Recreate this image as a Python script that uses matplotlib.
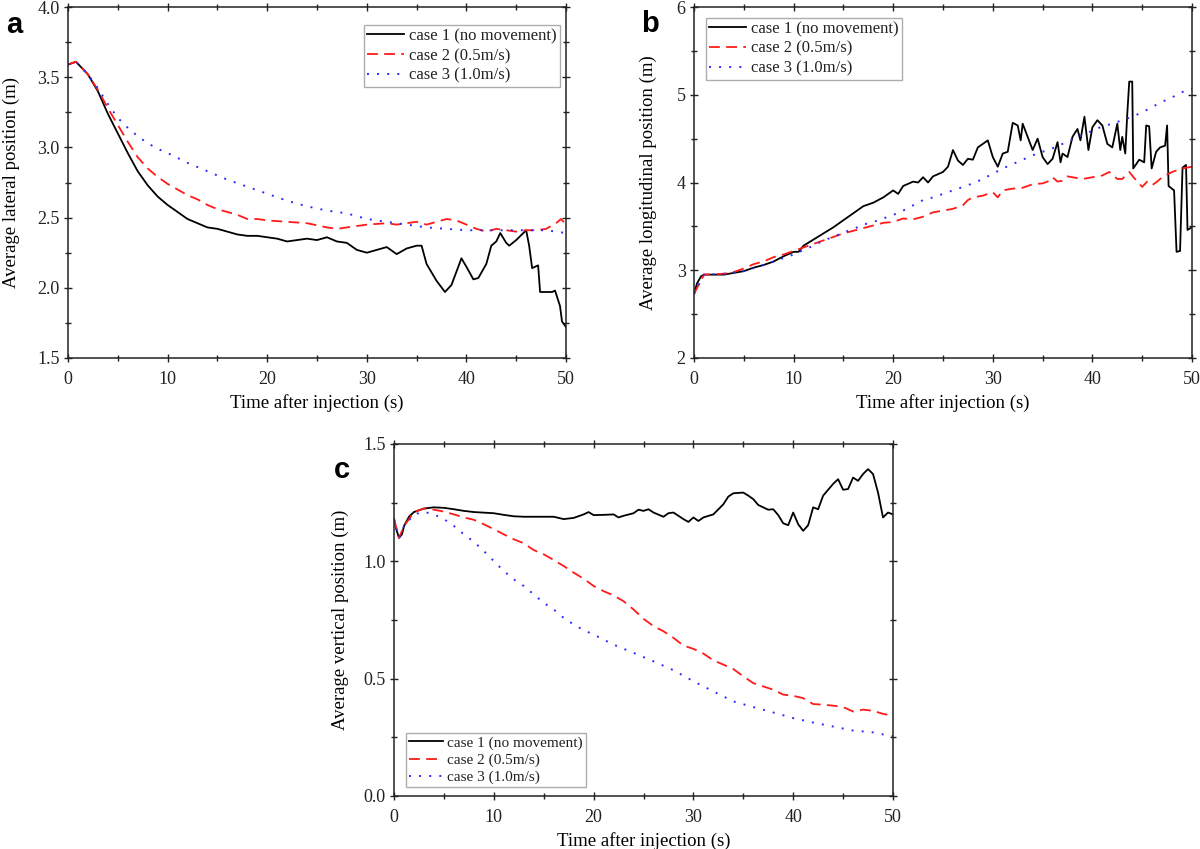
import matplotlib
matplotlib.use("Agg")
import matplotlib.pyplot as plt
from matplotlib.ticker import MultipleLocator

plt.rcParams['font.family'] = ['Liberation Serif', 'DejaVu Serif']
plt.rcParams['mathtext.fontset'] = 'stix'

labels = ["case 1 (no movement)", "case 2 (0.5m/s)", "case 3 (1.0m/s)"]
xlabel = "Time after injection (s)"

# ---------------- Panel a: lateral ----------------
a_t1 = [0, 0.8, 2, 3, 4, 5, 6, 7, 8, 9, 10, 11, 12, 13, 14, 15, 16, 17, 18, 19, 20, 21, 22, 23, 24, 25, 26, 27, 28, 29, 30,
        31, 32, 33, 34, 35, 35.5, 36, 37, 37.85, 38.5, 39.5, 40, 40.7, 41.2, 42, 42.5, 43, 43.4, 44, 44.3, 45, 46, 46.3,
        46.6, 47.2, 47.4, 48.6, 48.9, 49.4, 49.6, 50]
a_y1 = [3.59, 3.61, 3.52, 3.40, 3.24, 3.10, 2.96, 2.83, 2.73, 2.65, 2.59, 2.54, 2.49, 2.46, 2.43, 2.42, 2.40, 2.38, 2.37, 2.37,
        2.36, 2.35, 2.33, 2.34, 2.35, 2.34, 2.36, 2.33, 2.32, 2.27, 2.25, 2.27, 2.29, 2.24, 2.28, 2.30, 2.30, 2.17, 2.05,
        1.97, 2.02, 2.21, 2.15, 2.06, 2.07, 2.17, 2.30, 2.33, 2.39, 2.32, 2.30, 2.34, 2.41, 2.30, 2.14, 2.16, 1.97, 1.97,
        1.98, 1.87, 1.76, 1.72]
a_t2 = [0, 0.8, 2, 3, 4, 5, 6, 7, 8, 9, 10, 11, 12, 13, 14, 15, 16, 17, 18, 19, 20, 22, 24, 26, 27, 28, 30, 32, 33, 34, 35,
        36, 37, 38, 39, 40, 41, 42, 43, 44, 45, 46, 47, 48, 49, 49.5, 50]
a_y2 = [3.59, 3.61, 3.52, 3.41, 3.28, 3.16, 3.04, 2.93, 2.85, 2.79, 2.74, 2.70, 2.66, 2.63, 2.59, 2.56, 2.54, 2.52, 2.49, 2.49,
        2.48, 2.47, 2.46, 2.43, 2.42, 2.43, 2.45, 2.46, 2.45, 2.46, 2.47, 2.45, 2.47, 2.49, 2.48, 2.45, 2.42, 2.40, 2.42,
        2.41, 2.40, 2.41, 2.41, 2.42, 2.46, 2.49, 2.45]
a_t3 = [0, 0.8, 2, 3, 4, 5, 6, 7, 8, 9, 10, 12, 14, 16, 18, 20, 22, 24, 26, 28, 30, 32, 34, 36, 38, 40, 42, 44, 46, 48, 50]
a_y3 = [3.59, 3.61, 3.52, 3.42, 3.31, 3.21, 3.14, 3.08, 3.03, 2.99, 2.96, 2.89, 2.83, 2.77, 2.72, 2.67, 2.62, 2.58, 2.55,
        2.53, 2.49, 2.47, 2.45, 2.43, 2.42, 2.41, 2.41, 2.41, 2.41, 2.41, 2.39]

# ---------------- Panel b: longitudinal ----------------
b_t1 = [0, 0.3, 0.7, 1, 2, 3, 4, 5, 6, 7, 8, 9, 10, 10.5, 11, 12, 13, 14, 15, 16, 17, 18, 19, 20, 20.5, 21, 22, 22.5, 23,
        23.5, 24, 25, 25.5, 26, 26.5, 27, 27.5, 28, 28.5, 29, 29.5, 30, 30.5, 31, 31.5, 32, 32.5, 32.8, 33, 33.5, 34, 34.5,
        35, 35.5, 36, 36.5, 36.8, 37, 37.5, 38, 38.5, 38.8, 39.2, 39.6, 40, 40.5, 41, 41.5, 42, 42.5, 42.8, 43, 43.3, 43.5,
        43.7, 44.0, 44.1, 44.7, 45.2, 45.4, 45.7, 45.95, 46.4, 46.8, 47.3, 47.5, 47.65, 48.2, 48.45, 48.8, 49.05, 49.4,
        49.55, 50]
b_y1 = [2.73, 2.85, 2.93, 2.95, 2.95, 2.95, 2.97, 2.99, 3.03, 3.06, 3.10, 3.16, 3.21, 3.21, 3.28, 3.35, 3.42, 3.49, 3.57,
        3.65, 3.73, 3.77, 3.83, 3.91, 3.87, 3.96, 4.01, 4.00, 4.06, 4.00, 4.07, 4.12, 4.18, 4.37, 4.25, 4.20, 4.27, 4.26,
        4.40, 4.44, 4.48, 4.29, 4.18, 4.33, 4.35, 4.68, 4.65, 4.48, 4.67, 4.52, 4.37, 4.50, 4.29, 4.21, 4.27, 4.46, 4.23,
        4.33, 4.29, 4.52, 4.61, 4.48, 4.75, 4.37, 4.63, 4.71, 4.65, 4.44, 4.40, 4.67, 4.37, 4.52, 4.33, 4.78, 5.15, 5.15,
        4.16, 4.26, 4.23, 4.65, 4.64, 4.16, 4.35, 4.40, 4.42, 4.65, 3.96, 3.91, 3.21, 3.22, 4.17, 4.20, 3.46, 3.49]
b_t2 = [0, 1, 3, 4, 5, 6, 7, 8, 9, 10, 11, 12, 13, 14, 15, 16, 17, 18, 19, 20, 21, 22, 23, 24, 25, 26, 27, 27.5, 28, 29,
        30, 30.5, 31, 32, 33, 34, 35, 35.5, 36, 36.5, 37, 37.5, 38, 39, 40, 41, 41.7, 42.5, 43, 43.7, 44.5, 45, 45.5, 46,
        46.5, 47, 48, 49, 50]
b_y2 = [2.73, 2.95, 2.96, 2.98, 3.02, 3.07, 3.10, 3.15, 3.18, 3.22, 3.26, 3.30, 3.34, 3.38, 3.42, 3.45, 3.48, 3.51, 3.54,
        3.55, 3.59, 3.58, 3.61, 3.66, 3.68, 3.70, 3.74, 3.80, 3.83, 3.85, 3.89, 3.83, 3.91, 3.93, 3.94, 3.98, 3.99, 4.01,
        4.06, 4.01, 4.02, 4.07, 4.06, 4.04, 4.06, 4.08, 4.12, 4.04, 4.04, 4.12, 4.01, 3.95, 4.01, 3.97, 4.01, 4.06, 4.12,
        4.16, 4.18]
b_t3 = [0, 1, 3, 5, 7, 8, 9, 10, 11, 12, 13, 14, 15, 16, 17, 18, 19, 20, 21, 22, 23, 24, 25, 26, 27, 28, 29, 30, 31, 32,
        33, 34, 35, 36, 37, 38, 39, 40, 41, 42, 43, 44, 45, 46, 47, 48, 49, 50]
b_y3 = [2.73, 2.95, 2.96, 2.99, 3.06, 3.10, 3.14, 3.18, 3.23, 3.28, 3.34, 3.38, 3.43, 3.47, 3.52, 3.55, 3.59, 3.63, 3.68,
        3.74, 3.80, 3.83, 3.87, 3.91, 3.95, 3.99, 4.04, 4.10, 4.16, 4.21, 4.26, 4.31, 4.35, 4.39, 4.44, 4.49, 4.54, 4.59,
        4.64, 4.67, 4.71, 4.75, 4.80, 4.86, 4.92, 4.97, 5.03, 5.07]

# ---------------- Panel c: vertical ----------------
c_t1 = [0, 0.2, 0.5, 0.8, 1, 1.5, 2, 3, 4, 5, 6, 7, 8, 10, 11, 12, 13, 14, 15, 16, 17, 18, 19, 19.5, 20, 21, 22, 22.5,
        23, 24, 24.5, 25, 25.5, 26, 27, 27.5, 28, 29, 29.5, 30, 30.5, 31, 32, 33, 33.5, 34, 35, 35.5, 36, 36.5, 37, 37.5,
        38, 38.5, 39, 39.5, 40, 40.5, 41, 41.5, 42, 42.5, 43, 44, 44.5, 45, 45.5, 46, 46.5, 47, 47.5, 48, 48.5, 49, 49.5,
        50]
c_y1 = [1.18, 1.14, 1.10, 1.115, 1.15, 1.19, 1.21, 1.225, 1.23, 1.228, 1.222, 1.215, 1.21, 1.205, 1.198, 1.192, 1.19,
        1.19, 1.19, 1.19, 1.18, 1.185, 1.20, 1.21, 1.197, 1.198, 1.20, 1.187, 1.194, 1.205, 1.22, 1.215, 1.222, 1.208,
        1.19, 1.205, 1.208, 1.18, 1.168, 1.187, 1.172, 1.187, 1.20, 1.243, 1.276, 1.29, 1.293, 1.28, 1.265, 1.24, 1.23,
        1.22, 1.222, 1.197, 1.162, 1.154, 1.208, 1.158, 1.13, 1.154, 1.23, 1.222, 1.28, 1.33, 1.35, 1.305, 1.308, 1.357,
        1.343, 1.372, 1.393, 1.372, 1.293, 1.187, 1.208, 1.20]
c_t2 = [0, 0.5, 1, 2, 3, 4, 5, 6, 7, 8, 9, 10, 11, 12, 13, 14, 15, 16, 17, 18, 19, 20, 21, 22, 23, 24, 25, 26, 27, 28, 29,
        30, 31, 32, 33, 34, 35, 36, 37, 38, 39, 40, 41, 42, 43, 44, 45, 46, 47, 48, 49, 49.5, 50]
c_y2 = [1.18, 1.10, 1.15, 1.21, 1.225, 1.22, 1.212, 1.20, 1.187, 1.177, 1.158, 1.137, 1.115, 1.094, 1.077, 1.048, 1.03,
        1.006, 0.98, 0.952, 0.926, 0.895, 0.873, 0.855, 0.83, 0.795, 0.755, 0.724, 0.702, 0.674, 0.641, 0.627, 0.607,
        0.578, 0.56, 0.541, 0.51, 0.481, 0.467, 0.453, 0.432, 0.427, 0.417, 0.392, 0.389, 0.385, 0.379, 0.36, 0.368,
        0.363, 0.35, 0.346, 0.36]
c_t3 = [0, 0.5, 1, 2, 3, 4, 5, 6, 7, 8, 9, 10, 11, 12, 13, 14, 15, 16, 17, 18, 19, 20, 22, 24, 26, 28, 30, 32, 34, 36, 38,
        40, 42, 44, 46, 48, 50]
c_y3 = [1.18, 1.10, 1.15, 1.20, 1.211, 1.20, 1.18, 1.151, 1.115, 1.083, 1.044, 1.001, 0.959, 0.923, 0.895, 0.859, 0.823,
        0.795, 0.759, 0.731, 0.707, 0.688, 0.645, 0.61, 0.574, 0.536, 0.489, 0.446, 0.403, 0.379, 0.356, 0.332, 0.313,
        0.296, 0.279, 0.271, 0.254]

W, H = 1200, 849
fig = plt.figure(figsize=(W / 100, H / 100), dpi=100)

def rect(x0, y0, x1, y1):
    return [x0 / W, 1 - y1 / H, (x1 - x0) / W, (y1 - y0) / H]

ax_a = fig.add_axes(rect(68, 7, 566, 358))
ax_b = fig.add_axes(rect(694, 7, 1192, 358))
ax_c = fig.add_axes(rect(394, 444, 893, 796))

styles = [dict(color='black', lw=1.3, linestyle='-'),
          dict(color='#ff1a1a', lw=1.3, linestyle=(0, (6, 3.5))),
          dict(color='#2a2aff', lw=1.4, linestyle=(0, (1, 4.2)))]

def draw(ax, series, ylim, ymaj, ymin, ylabel, ylabelpad, legend_bbox, fmt, legsize):
    for (t, y), st, lab in zip(series, styles, labels):
        ax.plot(t, y, label=lab, **st)
    ax.set_xlim(0, 50)
    ax.set_ylim(*ylim)
    ax.xaxis.set_major_locator(MultipleLocator(10))
    ax.xaxis.set_minor_locator(MultipleLocator(5))
    ax.yaxis.set_major_locator(MultipleLocator(ymaj))
    ax.yaxis.set_minor_locator(MultipleLocator(ymin))
    ax.yaxis.set_major_formatter(plt.FormatStrFormatter(fmt))
    ax.tick_params(which='both', top=True, right=True, direction='inout', colors='#222222',
                   labelsize=13, labelcolor='#222222')
    ax.tick_params(axis='x', which='major', pad=6)
    ax.tick_params(axis='y', which='major', pad=3)
    ax.tick_params(which='major', length=6, width=1)
    ax.tick_params(which='minor', length=4, width=1)
    for s in ax.spines.values():
        s.set_color('#222222')
        s.set_linewidth(1.1)
    ax.set_xlabel(xlabel, fontsize=13.5, labelpad=5)
    ax.set_ylabel(ylabel, fontsize=13.5, labelpad=ylabelpad)
    leg = ax.legend(loc='upper left', bbox_to_anchor=legend_bbox, fontsize=legsize, frameon=True, fancybox=False,
                    edgecolor='#999999', handlelength=2.2, handletextpad=0.3, borderpad=0.2,
                    labelspacing=0.22, borderaxespad=0)
    leg.get_frame().set_linewidth(1.0)
    for txt in leg.get_texts():
        txt.set_color('#222222')

draw(ax_a, [(a_t1, a_y1), (a_t2, a_y2), (a_t3, a_y3)], (1.5, 4.0), 0.5, 0.25,
     "Average lateral position (m)", 12, (0.594, 0.949), '%.1f', 12)
draw(ax_b, [(b_t1, b_y1), (b_t2, b_y2), (b_t3, b_y3)], (2, 6), 1, 0.5,
     "Average longitudinal position (m)", 14, (0.024, 0.969), '%d', 12)
draw(ax_c, [(c_t1, c_y1), (c_t2, c_y2), (c_t3, c_y3)], (0.0, 1.5), 0.5, 0.25,
     "Average vertical position (m)", 10.5, (0.024, 0.179), '%.1f', 11)

for x, y, s in [(6, 33, 'a'), (641, 32, 'b'), (334, 478, 'c')]:
    fig.text(x / W, 1 - y / H, s, fontsize=21, fontweight='bold', family='Liberation Sans', color='black')

fig.savefig('out.png', dpi=100)
